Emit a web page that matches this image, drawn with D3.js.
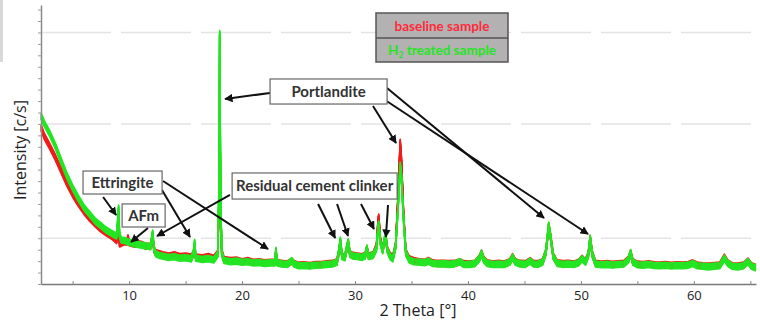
<!DOCTYPE html>
<html>
<head>
<meta charset="utf-8">
<script src="https://cdn.jsdelivr.net/npm/d3@7"></script>
<style>
  body { margin: 0; background: #fff; }
  svg { display: block; font-family: Lato, 'Open Sans', sans-serif; }
</style>
</head>
<body>
<svg id="chart" width="760" height="320"></svg>
<script>
// x tick labels (2 theta, degrees) and faint grid levels (c/s)
const xTickLabels = [10, 20, 30, 40, 50, 60];
const gridLevels = [4000, 14000, 22000];

// H2 treated sample (green) : [2 theta, intensity]
const treated = [
  [2.2,14700],[2.5,14000],[3.0,13100],[3.5,12000],[4.0,10700],[4.5,9450],[5.0,8400],[5.5,7500],
  [6.0,6700],[6.5,6100],[7.0,5500],[7.5,5100],[8.0,4700],[8.5,4400],[8.9,4200],[9.0,5600],
  [9.07,6650],[9.15,4300],[9.3,3850],[9.6,3800],[10.0,3650],[10.5,3500],[11.0,3420],[11.5,3330],
  [11.9,3250],[12.0,3900],[12.08,4460],[12.2,3100],[12.35,2650],[12.7,2500],[13.0,2420],[13.5,2320],
  [14.0,2380],[14.5,2260],[15.0,2300],[15.5,2200],[15.7,2700],[15.8,3650],[15.9,2250],[16.5,2150],
  [17.0,2220],[17.5,2100],[17.85,2600],[17.95,8000],[18.02,21900],[18.1,8000],[18.2,2700],[18.4,2050],
  [19.0,1950],[19.5,2000],[20.0,1900],[20.5,1950],[21.0,1840],[21.5,1880],[22.0,1800],[22.5,1850],
  [22.9,1850],[23.0,2950],[23.1,1850],[23.5,1760],[24.0,1700],[24.4,2050],[24.6,1750],[25.0,1600],
  [25.5,1620],[26.0,1580],[26.5,1640],[27.0,1660],[27.5,1700],[28.0,1750],[28.4,1900],[28.6,3000],
  [28.7,3850],[28.85,2400],[29.1,2300],[29.3,3300],[29.4,3700],[29.55,2600],[29.8,2450],[30.2,2400],
  [30.6,2320],[30.9,2450],[31.05,3150],[31.2,2400],[31.6,2500],[31.9,3100],[32.05,5000],[32.1,5250],
  [32.25,3600],[32.45,2900],[32.6,3800],[32.7,4460],[32.85,3000],[33.1,2400],[33.35,2200],[33.6,3300],
  [33.85,7350],[34.0,10400],[34.1,9500],[34.3,5600],[34.5,2700],[34.8,2100],[35.2,1950],[35.7,1900],
  [36.2,1860],[36.5,2000],[36.8,1820],[37.3,1750],[37.8,1780],[38.3,1720],[38.8,1760],[39.3,1950],
  [39.6,1720],[40.1,1700],[40.6,1780],[41.0,2200],[41.2,2700],[41.4,2100],[41.7,1800],[42.2,1700],
  [42.7,1740],[43.2,1700],[43.7,1900],[43.95,2350],[44.2,1900],[44.6,1760],[45.1,1720],[45.5,2000],
  [45.8,1750],[46.2,1720],[46.6,1900],[46.9,2800],[47.15,5150],[47.3,4200],[47.55,2400],[47.9,1800],
  [48.4,1720],[48.9,1750],[49.4,1700],[49.8,1850],[50.1,2200],[50.4,1900],[50.65,2500],[50.82,4000],
  [51.0,2600],[51.3,1750],[51.8,1680],[52.3,1720],[52.8,1660],[53.3,1700],[53.8,1750],[54.2,2100],
  [54.4,2750],[54.6,1900],[55.0,1680],[55.5,1650],[56.0,1700],[56.5,1620],[57.0,1600],[57.5,1640],
  [58.0,1580],[58.5,1620],[59.0,1600],[59.5,1650],[59.9,1800],[60.3,1600],[60.8,1550],[61.3,1500],
  [61.8,1560],[62.3,1600],[62.7,2250],[63.0,1800],[63.4,1550],[63.9,1500],[64.4,1600],[64.8,1950],
  [65.1,1550],[65.5,1400]
];

// baseline sample (red) : [2 theta, intensity]
const baseline = [
  [2.2,13700],[2.5,12900],[3.0,12000],[3.5,11000],[4.0,9900],[4.5,8800],[5.0,7850],[5.5,7050],
  [6.0,6350],[6.5,5750],[7.0,5250],[7.5,4800],[8.0,4450],[8.5,4150],[8.9,3800],[9.0,4500],
  [9.07,5300],[9.15,3500],[9.3,3550],[9.6,3700],[9.8,3650],[9.9,4050],[10.0,3600],[10.5,3480],
  [11.0,3500],[11.5,3300],[11.9,3300],[12.0,3800],[12.08,4300],[12.2,3000],[12.35,2750],[12.7,2650],
  [13.0,2550],[13.5,2450],[14.0,2550],[14.5,2400],[15.0,2450],[15.5,2350],[15.7,2650],[15.8,3300],
  [15.9,2350],[16.5,2300],[17.0,2400],[17.5,2250],[17.85,2700],[17.95,7000],[18.02,18000],[18.1,7000],
  [18.2,2800],[18.4,2150],[19.0,2050],[19.5,2100],[20.0,1950],[20.5,2050],[21.0,1900],[21.5,1950],
  [22.0,1850],[22.5,1900],[22.9,1900],[23.0,2800],[23.1,1900],[23.5,1800],[24.0,1750],[24.4,2000],
  [24.6,1800],[25.0,1650],[25.5,1680],[26.0,1620],[26.5,1700],[27.0,1700],[27.5,1760],[28.0,1800],
  [28.4,1950],[28.6,2900],[28.7,3700],[28.85,2450],[29.1,2350],[29.3,3200],[29.4,3600],[29.55,2650],
  [29.8,2500],[30.2,2450],[30.6,2380],[30.9,2500],[31.05,3100],[31.2,2450],[31.6,2550],[31.9,3300],
  [32.05,5600],[32.1,5860],[32.25,3800],[32.45,3000],[32.6,3700],[32.7,4300],[32.85,3050],[33.1,2500],
  [33.35,2300],[33.6,3400],[33.85,8400],[34.0,12400],[34.1,11000],[34.3,6000],[34.5,2800],[34.8,2200],
  [35.2,2050],[35.7,1950],[36.2,1900],[36.5,2050],[36.8,1880],[37.3,1800],[37.8,1820],[38.3,1780],
  [38.8,1800],[39.3,1950],[39.6,1780],[40.1,1750],[40.6,1820],[41.0,2250],[41.2,2700],[41.4,2150],
  [41.7,1850],[42.2,1750],[42.7,1800],[43.2,1750],[43.7,1950],[43.95,2400],[44.2,1950],[44.6,1800],
  [45.1,1780],[45.5,2050],[45.8,1800],[46.2,1780],[46.6,1950],[46.9,2800],[47.15,5100],[47.3,4200],
  [47.55,2450],[47.9,1850],[48.4,1780],[48.9,1800],[49.4,1750],[49.8,1900],[50.1,2250],[50.4,1950],
  [50.65,2550],[50.82,4000],[51.0,2650],[51.3,1800],[51.8,1740],[52.3,1780],[52.8,1720],[53.3,1760],
  [53.8,1800],[54.2,2150],[54.4,2700],[54.6,1950],[55.0,1740],[55.5,1700],[56.0,1760],[56.5,1680],
  [57.0,1660],[57.5,1700],[58.0,1640],[58.5,1680],[59.0,1660],[59.5,1700],[59.9,1850],[60.3,1660],
  [60.8,1600],[61.3,1560],[61.8,1620],[62.3,1660],[62.7,2350],[63.0,1850],[63.4,1600],[63.9,1560],
  [64.4,1650],[64.8,2000],[65.1,1600],[65.5,1450]
];

// annotation boxes: [theta0, counts0, theta1, counts1]
const labels = [
  { text: 'Portlandite', box: [22.48, 17930, 32.84, 15740] },
  { text: 'Residual cement clinker', box: [19.12, 9710, 33.73, 7430] },
  { text: 'Ettringite', box: [5.92, 9880, 12.92, 7870] },
  { text: 'AFm', box: [9.38, 7000, 13.19, 4985] }
];

// annotation arrows: from / to in [theta, counts]
const arrows = [
  { from: [22.47, 16705], to: [18.49, 16180] },
  { from: [31.59, 15568], to: [33.63, 12332] },
  { from: [32.83, 17142], to: [46.73, 5772] },
  { from: [32.66, 16092], to: [50.63, 4373] },
  { from: [7.70, 7609], to: [8.85, 6035] },
  { from: [12.91, 8221], to: [15.39, 4111] },
  { from: [13.0, 9008], to: [22.30, 3061] },
  { from: [11.67, 4898], to: [10.17, 3673] },
  { from: [18.93, 7784], to: [12.47, 4198] },
  { from: [26.73, 6997], to: [28.24, 4023] },
  { from: [28.41, 6997], to: [29.38, 4198] },
  { from: [30.53, 6997], to: [31.68, 4810] },
  { from: [32.92, 6909], to: [32.74, 4111] }
];

const legendItems = ['baseline sample', 'treated sample'];

const margin = { top: 5, right: 4, bottom: 36, left: 41 };
const width = 760 - margin.left - margin.right;
const height = 320 - margin.top - margin.bottom;

const svg = d3.select('#chart');

// small gray sliver at the top left of the scan
svg.append('rect')
  .attr('x', 0).attr('y', 0).attr('width', 3).attr('height', 62)
  .attr('fill', '#d8d8d8');

const g = svg.append('g')
  .attr('transform', 'translate(' + margin.left + ',' + margin.top + ')');

const x = d3.scaleLinear().domain([2.2, 65.5]).range([0, width]);
const y = d3.scaleLinear().domain([0, 24400]).range([height, 0]);

// faint dashed grid
g.selectAll('.grid')
  .data(gridLevels)
  .enter()
  .append('line')
  .attr('x1', 0).attr('x2', width)
  .attr('y1', d => y(d)).attr('y2', d => y(d))
  .attr('stroke', '#e4e4e4')
  .attr('stroke-width', 1.5)
  .attr('stroke-dasharray', '70 10');

// the diffractograms: a thin line stacked a few px up and down gives the noisy band
const line = d3.line().x(d => x(d[0])).y(d => y(d[1]));
const offsets = [-3, -2, -1, 0, 1, 2, 3];
[[baseline, '#f01c1c'], [treated, '#22e622']].forEach(([series, colour]) => {
  const s = g.append('g');
  offsets.forEach(dy => {
    s.append('path')
      .attr('transform', 'translate(0,' + dy + ')')
      .attr('fill', 'none')
      .attr('stroke', colour)
      .attr('stroke-width', 1.6)
      .attr('stroke-linejoin', 'round')
      .attr('d', line(series));
  });
});

// x axis
const xAxis = g.append('g')
  .attr('transform', 'translate(0,' + height + ')')
  .call(d3.axisBottom(x)
    .tickValues(d3.range(5, 66, 5))
    .tickSizeInner(-3)
    .tickSizeOuter(0)
    .tickPadding(7)
    .tickFormat(d => xTickLabels.includes(d) ? d : ''));
xAxis.select('.domain').attr('stroke', '#7a7a7a').attr('stroke-width', 1.5);
xAxis.selectAll('.tick line').attr('stroke', '#8a8a8a');
xAxis.selectAll('.tick text')
  .attr('font-size', 13)
  .attr('font-family', "'Open Sans', sans-serif")
  .attr('fill', '#222');

// y axis, ticks only
const yAxis = g.append('g')
  .call(d3.axisLeft(y)
    .tickValues(d3.range(0, 24001, 1000))
    .tickSizeInner(3)
    .tickSizeOuter(0)
    .tickFormat(''));
yAxis.select('.domain').attr('stroke', '#8a8a8a').attr('stroke-width', 1.5);
yAxis.selectAll('.tick line').attr('stroke', '#9a9a9a');

// axis titles
svg.append('text')
  .attr('x', 418).attr('y', 316)
  .attr('text-anchor', 'middle')
  .attr('font-family', "'Open Sans', sans-serif")
  .attr('font-size', 16)
  .attr('fill', '#222')
  .text('2 Theta [°]');

svg.append('text')
  .attr('transform', 'translate(26,150) rotate(-90)')
  .attr('text-anchor', 'middle')
  .attr('font-family', "'Open Sans', sans-serif")
  .attr('font-size', 16)
  .attr('fill', '#222')
  .text('Intensity [c/s]');

// arrows
const defs = svg.append('defs');
defs.append('marker')
  .attr('id', 'head')
  .attr('viewBox', '0 0 10 10')
  .attr('refX', 9).attr('refY', 5)
  .attr('markerWidth', 4.2).attr('markerHeight', 4.2)
  .attr('orient', 'auto')
  .append('path')
  .attr('d', 'M0,0L10,5L0,10Z')
  .attr('fill', '#111');

g.selectAll('.arrow')
  .data(arrows)
  .enter()
  .append('line')
  .attr('x1', d => x(d.from[0])).attr('y1', d => y(d.from[1]))
  .attr('x2', d => x(d.to[0])).attr('y2', d => y(d.to[1]))
  .attr('stroke', '#111')
  .attr('stroke-width', 2)
  .attr('marker-end', 'url(#head)');

// label boxes
const lab = g.selectAll('.label')
  .data(labels)
  .enter()
  .append('g');
lab.append('rect')
  .attr('x', d => x(d.box[0])).attr('y', d => y(d.box[1]))
  .attr('width', d => x(d.box[2]) - x(d.box[0]))
  .attr('height', d => y(d.box[3]) - y(d.box[1]))
  .attr('fill', '#fff')
  .attr('stroke', '#666')
  .attr('stroke-width', 1.2);
lab.append('text')
  .attr('x', d => (x(d.box[0]) + x(d.box[2])) / 2)
  .attr('y', d => (y(d.box[1]) + y(d.box[3])) / 2)
  .attr('dy', '0.36em')
  .attr('text-anchor', 'middle')
  .attr('font-size', 15)
  .attr('font-weight', 'bold')
  .attr('fill', '#333')
  .text(d => d.text);

// legend
const leg = svg.append('g').attr('transform', 'translate(376,13)');
leg.append('rect')
  .attr('width', 132).attr('height', 49)
  .attr('fill', '#b3b1b1')
  .attr('stroke', '#555')
  .attr('stroke-width', 1.5);
leg.append('line')
  .attr('x1', 0).attr('x2', 132).attr('y1', 25).attr('y2', 25)
  .attr('stroke', '#555').attr('stroke-width', 1.5);
leg.append('text')
  .attr('x', 66).attr('y', 13).attr('dy', '0.35em')
  .attr('text-anchor', 'middle')
  .attr('font-size', 13.5).attr('font-weight', 'bold')
  .attr('fill', '#ff2a3a')
  .text(legendItems[0]);
const t2 = leg.append('text')
  .attr('x', 66).attr('y', 37).attr('dy', '0.35em')
  .attr('text-anchor', 'middle')
  .attr('font-size', 13.5).attr('font-weight', 'bold')
  .attr('fill', '#22e622');
t2.append('tspan').text('H');
t2.append('tspan').attr('font-size', 8.5).attr('dy', 3).text('2');
t2.append('tspan').attr('dy', -3).text(' ' + legendItems[1]);
</script>
</body>
</html>
